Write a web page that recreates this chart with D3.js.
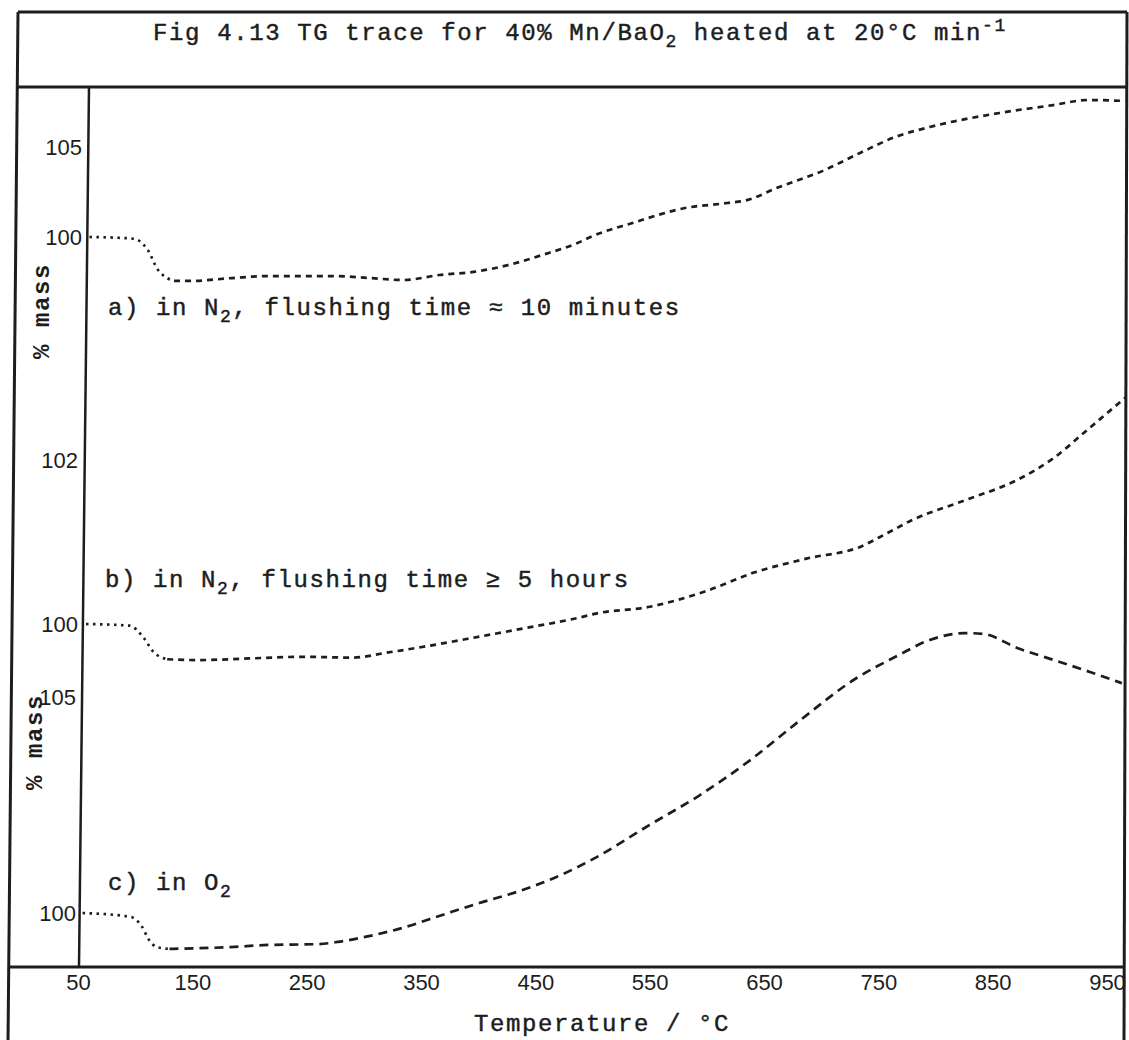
<!DOCTYPE html>
<html>
<head>
<meta charset="utf-8">
<script src="https://cdn.jsdelivr.net/npm/d3@7"></script>
<style>
  html, body { margin: 0; padding: 0; background: #fff; }
  svg { display: block; }
</style>
</head>
<body>
<svg id="chart" width="1129" height="1040"></svg>
<script>
// temperature (°C) and % mass
const tempA = [60, 80, 99, 111, 120, 128, 134, 149, 185, 215, 245, 275, 305, 335, 366, 396, 426, 456, 487, 500, 535, 581, 618, 636, 661, 703, 734, 765, 795, 856, 903, 933, 966];
const massA = [100, 99.97, 99.9, 99.28, 98.17, 97.72, 97.56, 97.56, 97.72, 97.83, 97.83, 97.83, 97.72, 97.61, 97.89, 98.06, 98.44, 99.0, 99.67, 100.05, 100.78, 101.61, 101.89, 102.06, 102.72, 103.72, 104.67, 105.56, 106.11, 106.89, 107.33, 107.61, 107.56];

const tempB = [57, 95, 107, 116, 128, 155, 200, 245, 290, 320, 351, 395, 441, 486, 504, 550, 597, 642, 688, 734, 758, 780, 826, 872, 903, 933, 966];
const massB = [100, 99.98, 99.84, 99.66, 99.57, 99.56, 99.58, 99.6, 99.59, 99.65, 99.72, 99.83, 99.95, 100.07, 100.13, 100.21, 100.39, 100.63, 100.8, 100.94, 101.11, 101.27, 101.51, 101.76, 102.02, 102.37, 102.76];

const tempC = [54, 96, 106, 112, 119, 130, 183, 216, 260, 277, 300, 333, 368, 401, 434, 468, 502, 550, 594, 638, 682, 731, 765, 795, 826, 842, 872, 903, 935, 963];
const massC = [100, 99.91, 99.68, 99.38, 99.21, 99.17, 99.21, 99.26, 99.28, 99.33, 99.44, 99.65, 99.95, 100.23, 100.49, 100.83, 101.27, 102.04, 102.73, 103.54, 104.47, 105.44, 105.93, 106.32, 106.48, 106.46, 106.13, 105.86, 105.58, 105.32];

// the typed trace starts dotted and turns dashed after the first step
const dottedUntil = [134, 128, 130];

const xTicks = [50, 150, 250, 350, 450, 550, 650, 750, 850, 950];
const ticksA = [100, 105];
const ticksB = [100, 102];
const ticksC = [100, 105];

const svg = d3.select("#chart");
const ink = "#1d1d1d";
const mono = "'Liberation Mono', 'Courier New', monospace";
const sans = "'Liberation Sans Narrow', 'Liberation Sans', Arial, sans-serif";

const x = d3.scaleLinear().domain([50, 950]).range([78, 1107]);
const yA = d3.scaleLinear().domain([100, 105]).range([237, 147]);
const yB = d3.scaleLinear().domain([100, 102]).range([624, 460]);
const yC = d3.scaleLinear().domain([100, 105]).range([913, 697]);

// frame of the typed sheet
const frame = svg.append("g")
  .attr("fill", "none")
  .attr("stroke", ink)
  .attr("stroke-width", 3);
frame.append("path").attr("d", "M18,12 L8,1042");
frame.append("path").attr("d", "M18,12 L1127,12");
frame.append("path").attr("d", "M1127,12 L1124,1042");
frame.append("path").attr("d", "M17,87 L1127,87");
frame.append("path").attr("d", "M9,967 L1125,967");
frame.append("path").attr("d", "M89,87 L79,967").attr("stroke-width", 2.5);

function typed(g, px, py, parts, size, anchor) {
  const t = g.append("text")
    .attr("x", px)
    .attr("y", py)
    .attr("font-family", mono)
    .attr("font-size", size)
    .attr("letter-spacing", size * 0.067)
    .attr("fill", ink)
    .attr("stroke", ink)
    .attr("stroke-width", 0.45)
    .attr("text-anchor", anchor || "start")
    .attr("xml:space", "preserve");
  parts.forEach(([s, kind]) => {
    const sp = t.append("tspan").text(s);
    if (kind === "sub") sp.attr("font-size", size * 0.75).attr("dy", size * 0.28);
    if (kind === "sup") sp.attr("font-size", size * 0.75).attr("dy", -size * 0.38);
    if (kind === "back") sp.attr("dy", -size * 0.28);
  });
  return t;
}

// title
typed(svg, 580, 40, [
  ["Fig 4.13 TG trace for 40% Mn/BaO"], ["2", "sub"],
  [" heated at 20°C min", "back"], ["-1", "sup"]
], 24, "middle");

// axes
svg.append("g")
  .attr("transform", "translate(0,967)")
  .call(d3.axisBottom(x).tickValues(xTicks).tickSize(0).tickPadding(7).tickFormat(d3.format("d")))
  .call(g => g.select(".domain").remove())
  .selectAll("text")
  .attr("font-family", sans)
  .attr("font-size", 22)
  .attr("fill", ink);

[[yA, ticksA, 85], [yB, ticksB, 81], [yC, ticksC, 79]].forEach(([scale, ticks, ax]) => {
  svg.append("g")
    .attr("transform", `translate(${ax},0)`)
    .call(d3.axisLeft(scale).tickValues(ticks).tickSize(0).tickPadding(3).tickFormat(d3.format("d")))
    .call(g => g.select(".domain").remove())
    .selectAll("text")
    .attr("font-family", sans)
    .attr("font-size", 22)
    .attr("fill", ink);
});

typed(svg, 602, 1031, [["Temperature / °C"]], 24, "middle");

[[42, 311], [35, 742]].forEach(([px, py]) => {
  svg.append("text")
    .attr("transform", `translate(${px},${py}) rotate(-90)`)
    .attr("text-anchor", "middle")
    .attr("dominant-baseline", "central")
    .attr("font-family", mono)
    .attr("font-size", 24)
    .attr("font-weight", "bold")
    .attr("letter-spacing", 1.6)
    .attr("fill", ink)
    .text("% mass");
});

// traces
const series = [
  { t: tempA, m: massA, y: yA, dash: "6 5", split: dottedUntil[0] },
  { t: tempB, m: massB, y: yB, dash: "6 5", split: dottedUntil[1] },
  { t: tempC, m: massC, y: yC, dash: "9 6", split: dottedUntil[2] }
];

series.forEach(s => {
  const pts = d3.zip(s.t, s.m);
  const line = d3.line()
    .x(d => x(d[0]))
    .y(d => s.y(d[1]))
    .curve(d3.curveMonotoneX);
  const parts = [
    [pts.filter(d => d[0] <= s.split), "2.5 4.5"],
    [pts.filter(d => d[0] >= s.split), s.dash]
  ];
  parts.forEach(([seg, dash]) => {
    svg.append("path")
      .datum(seg)
      .attr("d", line)
      .attr("fill", "none")
      .attr("stroke", ink)
      .attr("stroke-width", 2.7)
      .attr("stroke-dasharray", dash);
  });
});

// trace labels
typed(svg, 108, 315, [["a) in N"], ["2", "sub"], [", flushing time ≈ 10 minutes", "back"]], 24);
typed(svg, 105, 587, [["b) in N"], ["2", "sub"], [", flushing time ≥ 5 hours", "back"]], 24);
typed(svg, 108, 890, [["c) in O"], ["2", "sub"]], 24);
</script>
</body>
</html>
